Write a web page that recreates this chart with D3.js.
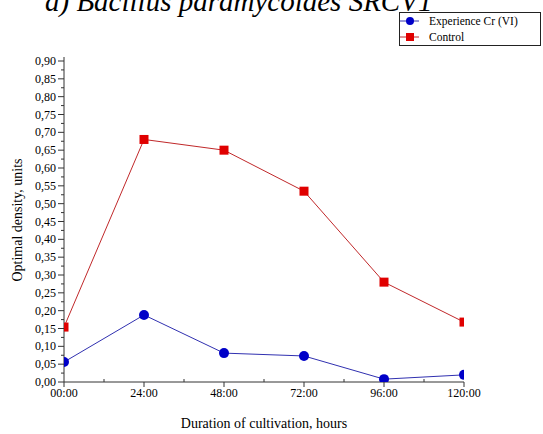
<!DOCTYPE html>
<html><head><meta charset="utf-8">
<script src="https://cdn.jsdelivr.net/npm/d3@7"></script>
<style>body{margin:0;background:#fff}svg{display:block}text{font-family:"Liberation Serif","Times New Roman",serif}</style>
</head><body><svg id="c" width="543" height="434"></svg>
<script>
const hours = [0, 24, 48, 72, 96, 120];
const xTickLabels = ["00:00","24:00","48:00","72:00","96:00","120:00"];
const experience = [0.056, 0.188, 0.081, 0.073, 0.008, 0.020];
const control = [0.154, 0.680, 0.650, 0.535, 0.280, 0.168];
const yTicks = [0,0.05,0.10,0.15,0.20,0.25,0.30,0.35,0.40,0.45,0.50,0.55,0.60,0.65,0.70,0.75,0.80,0.85,0.90];
const seriesNames = ["Experience Cr (VI)", "Control"];

const svg = d3.select("#c");
const L = 64, R = 464, T = 57, B = 382;
const x = d3.scaleLinear().domain([0,120]).range([L,R]);
const y = d3.scaleLinear().domain([0,0.90]).range([B,61]);

// title (cut at top, as in the reference)
svg.append("text").attr("x",45).attr("y",11).attr("font-size",29).attr("font-style","italic")
  .text("a) Bacillus paramycoides SRCV1");

const ax = "#333";
// y axis
svg.append("line").attr("x1",L).attr("x2",L).attr("y1",T).attr("y2",B).attr("stroke",ax);
const yMinor = d3.range(0.025,0.9,0.05);
svg.selectAll(".ym").data(yMinor).join("line").attr("x1",L).attr("x2",L-3)
  .attr("y1",d=>y(d)).attr("y2",d=>y(d)).attr("stroke",ax);
svg.selectAll(".yM").data(yTicks).join("line").attr("x1",L).attr("x2",L-6)
  .attr("y1",d=>y(d)).attr("y2",d=>y(d)).attr("stroke",ax);
svg.selectAll(".yl").data(yTicks).join("text").attr("x",L-8).attr("y",d=>y(d)+4)
  .attr("text-anchor","end").attr("font-size",12).text(d=>d.toFixed(2).replace(".",","));

// x axis
svg.append("line").attr("x1",L).attr("x2",R).attr("y1",B).attr("y2",B).attr("stroke",ax);
svg.selectAll(".xM").data(hours).join("line").attr("x1",d=>x(d)).attr("x2",d=>x(d))
  .attr("y1",B).attr("y2",B+5).attr("stroke",ax);
svg.selectAll(".xm").data(d3.range(12,120,24)).join("line").attr("x1",d=>x(d)).attr("x2",d=>x(d))
  .attr("y1",B).attr("y2",B-3).attr("stroke",ax);
svg.selectAll(".xl").data(hours).join("text").attr("x",d=>x(d)).attr("y",B+15)
  .attr("text-anchor","middle").attr("font-size",12).text((d,i)=>xTickLabels[i]);

// axis titles
svg.append("text").attr("x",264).attr("y",428).attr("text-anchor","middle").attr("font-size",14)
  .text("Duration of cultivation, hours");
svg.append("text").attr("transform","translate(22,220) rotate(-90)").attr("text-anchor","middle")
  .attr("font-size",14).text("Optimal density, units");

// clip
svg.append("clipPath").attr("id","cp").append("rect").attr("x",L).attr("y",0).attr("width",R-L).attr("height",B);
const g = svg.append("g").attr("clip-path","url(#cp)");
const line = d3.line().x((d,i)=>x(hours[i])).y(d=>y(d));
g.append("path").datum(control).attr("d",line).attr("fill","none").attr("stroke","#c0282a").attr("stroke-width",1);
g.append("path").datum(experience).attr("d",line).attr("fill","none").attr("stroke","#3030b0").attr("stroke-width",1);
g.selectAll(".cm").data(control).join("rect").attr("x",(d,i)=>x(hours[i])-4.5).attr("y",d=>y(d)-4.5)
  .attr("width",9).attr("height",9).attr("fill","#e00000");
g.selectAll(".em").data(experience).join("circle").attr("cx",(d,i)=>x(hours[i])).attr("cy",d=>y(d))
  .attr("r",5).attr("fill","#0000c8");

// legend
const lg = svg.append("g");
lg.append("rect").attr("x",399.5).attr("y",12.5).attr("width",141).attr("height",33).attr("fill","#fff").attr("stroke","#222");
const rows = [{c:"#3030b0",m:"#0000c8",t:"circle"},{c:"#c0282a",m:"#e00000",t:"rect"}];
rows.forEach((r,i)=>{
  const yy = 21 + i*16;
  lg.append("line").attr("x1",400).attr("x2",419).attr("y1",yy).attr("y2",yy).attr("stroke",r.c);
  if(r.t==="circle") lg.append("circle").attr("cx",410).attr("cy",yy).attr("r",4).attr("fill",r.m);
  else lg.append("rect").attr("x",406).attr("y",yy-4).attr("width",8).attr("height",8).attr("fill",r.m);
  lg.append("text").attr("x",429).attr("y",yy+4).attr("font-size",11.5).text(seriesNames[i]);
});
</script></body></html>
